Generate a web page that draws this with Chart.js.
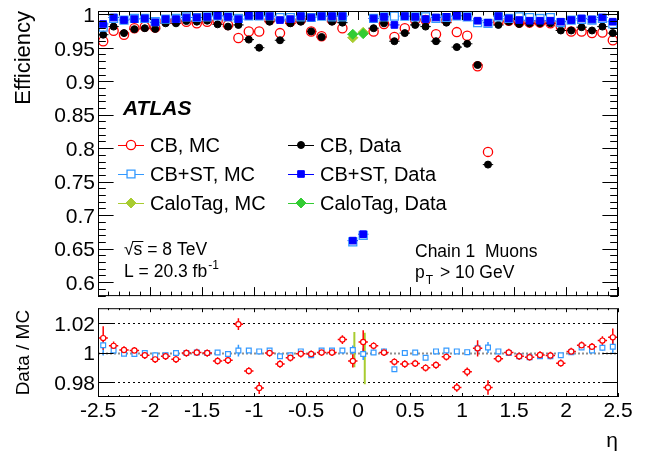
<!DOCTYPE html>
<html>
<head>
<meta charset="utf-8">
<script src="https://cdn.jsdelivr.net/npm/chart.js@4.4.1/dist/chart.umd.min.js"></script>
<style>
  html, body { margin: 0; padding: 0; background: #fff; }
  #wrap { position: relative; width: 651px; height: 457px; overflow: hidden; }
  canvas { position: absolute; left: 0; }
  #top { top: 0; }
  #bot { top: 303px; }
</style>
</head>
<body>
<div id="wrap">
  <canvas id="top" width="651" height="303"></canvas>
  <canvas id="bot" width="651" height="154"></canvas>
</div>
<script>
// muon reconstruction efficiency vs eta, CB / CB+ST / CaloTag

const etaBins = [-2.45,-2.35,-2.25,-2.15,-2.05,-1.95,-1.85,-1.75,-1.65,-1.55,-1.45,-1.35,-1.25,-1.15,-1.05,-0.95,-0.85,-0.75,-0.65,-0.55,-0.45,-0.35,-0.25,-0.15,-0.05,
                 0.05,0.15,0.25,0.35,0.45,0.55,0.65,0.75,0.85,0.95,1.05,1.15,1.25,1.35,1.45,1.55,1.65,1.75,1.85,1.95,2.05,2.15,2.25,2.35,2.45];

const effCbMC = [0.9597,0.9752,0.9694,0.9791,0.9815,0.9801,0.9898,0.9898,0.9888,0.9864,0.9888,0.9898,0.9840,0.9645,0.9743,0.9743,0.9913,0.9718,0.9888,0.9913,0.9743,0.9670,0.9913,0.9791,null,
                 null,0.9743,0.9854,0.9660,0.9791,0.9913,0.9913,0.9700,0.9913,0.9733,0.9679,0.9223,0.7945,0.9888,0.9903,0.9874,0.9874,0.9874,0.9864,0.9815,0.9743,0.9743,0.9718,0.9728,0.9611];
const effCbData = [0.9694,0.9815,0.9718,0.9777,0.9791,0.9781,0.9864,0.9864,0.9898,0.9888,0.9903,0.9849,0.9815,0.9840,0.9621,0.9500,0.9888,0.9611,0.9864,0.9888,0.9743,0.9660,0.9888,0.9874,null,
                   null,0.9791,0.9864,0.9597,0.9718,0.9840,0.9815,0.9597,0.9874,0.9509,0.9558,0.9242,0.7755,0.9840,0.9888,0.9854,0.9864,0.9864,0.9864,0.9757,0.9757,0.9806,0.9757,0.9815,0.9718];
const effCbStMC = [0.9806,0.9937,0.9913,0.9937,0.9937,0.9888,0.9927,0.9937,0.9961,0.9951,0.9961,0.9976,0.9961,0.9937,0.9976,0.9976,0.9976,0.9951,0.9951,0.9961,0.9951,0.9971,0.9961,0.9961,0.6600,
                   0.6700,0.9937,0.9961,0.9971,0.9971,0.9961,0.9961,0.9937,0.9951,0.9976,0.9961,0.9874,0.9864,0.9961,0.9937,0.9961,0.9951,0.9937,0.9951,0.9874,0.9913,0.9922,0.9913,0.9937,0.9854];
const effCbStData = [0.9854,0.9951,0.9913,0.9927,0.9937,0.9879,0.9927,0.9927,0.9951,0.9951,0.9961,0.9976,0.9961,0.9927,0.9976,0.9976,0.9971,0.9913,0.9927,0.9971,0.9951,0.9971,0.9971,0.9971,0.6620,
                     0.6716,0.9937,0.9961,0.9840,0.9971,0.9961,0.9927,0.9951,0.9961,0.9976,0.9961,0.9903,0.9874,0.9971,0.9937,0.9913,0.9903,0.9903,0.9903,0.9888,0.9913,0.9937,0.9922,0.9951,0.9888];

const caloEta = [-0.05, 0.05];
const effCaloMC = [0.965, 0.973];
const effCaloData = [0.970, 0.971];

const ratioCb = [1.0099,1.0046,1.0018,1.0014,0.9982,0.9954,0.9975,0.9954,0.9997,1.0001,0.9997,0.9943,0.9948,1.0194,0.9875,0.9758,0.9997,0.9922,0.9965,0.9992,0.9990,1.0001,1.0001,1.0089,0.9943,
                 1.0072,1.0046,1.0001,0.9937,0.9922,0.9926,0.9896,0.9915,0.9971,0.9762,0.9869,1.0029,0.9762,0.9958,1.0001,0.9975,0.9969,0.9984,0.9980,0.9928,1.0008,1.0050,1.0040,1.0082,1.0104];
const ratioCbErr = [0.008,0.003,0.0025,0.0025,0.0025,0.0025,0.0025,0.0025,0.0025,0.0025,0.0025,0.0025,0.0025,0.004,0.0025,0.004,0.0025,0.0025,0.0025,0.0025,0.0025,0.0025,0.0025,0.003,0.0045,
                    0.008,0.0025,0.0025,0.0025,0.0025,0.0025,0.0025,0.0025,0.0025,0.003,0.003,0.0055,0.005,0.0025,0.0025,0.0025,0.0025,0.0025,0.0025,0.0025,0.0025,0.0025,0.0025,0.003,0.006];
const ratioCbSt = [1.0050,1.0014,0.9992,0.9990,0.9997,0.9982,0.9982,0.9997,0.9997,1.0001,0.9997,1.0001,0.9990,1.0014,1.0014,1.0008,1.0014,0.9975,0.9982,1.0008,0.9982,1.0014,1.0014,1.0014,1.0018,
                   0.9990,1.0001,1.0008,0.9886,0.9997,1.0001,0.9965,1.0008,1.0014,1.0008,1.0003,1.0029,1.0035,1.0008,0.9997,0.9975,0.9969,0.9975,0.9975,0.9982,1.0003,1.0035,1.0014,1.0033,1.0040];
const ratioCbStErr = [0.007,0.002,0.0012,0.0012,0.0012,0.0012,0.0012,0.0012,0.0012,0.0012,0.0012,0.0012,0.0012,0.004,0.0012,0.0012,0.0012,0.0012,0.0012,0.0012,0.0012,0.0012,0.0012,0.0012,0.003,
                      0.004,0.0012,0.0012,0.0012,0.0012,0.0012,0.0012,0.0012,0.0012,0.0012,0.0012,0.003,0.0037,0.0012,0.0012,0.0012,0.0012,0.0012,0.0012,0.0012,0.0012,0.0012,0.0012,0.002,0.0045];

const ratioCaloEta = [-0.035, 0.065];
const ratioCalo = [1.002, 0.996];
const ratioCaloErr = [0.012, 0.0176];

const etaRange = [-2.5, 2.5];
const effRange = [0.5792, 1.0048];
const ratioRange = [0.9697, 1.0303];
const ratioGuides = [1.02, 1.0, 0.98];

const legendOrder = ['CB, MC', 'CB, Data', 'CB+ST, MC', 'CB+ST, Data', 'CaloTag, MC', 'CaloTag, Data'];

const FONT = '"Liberation Sans", Arial, Helvetica, sans-serif';
const RED = '#ff0000', BLACK = '#000000', LBLUE = '#3399ff', BLUE = '#0000ff', GREEN = '#33cc33', OLIVE = '#a8cc30';

Chart.defaults.font.family = FONT;
Chart.defaults.color = '#000';

function points(xs, ys, errs) {
  const out = [];
  xs.forEach((x, i) => {
    if (ys[i] != null) out.push({ x, y: ys[i], e: errs ? errs[i] : 0 });
  });
  return out;
}

const errorBars = {
  id: 'errorBars',
  beforeDatasetsDraw(chart) {
    const { ctx, chartArea: a, scales } = chart;
    const xs = scales.x, ys = scales.y;
    ctx.save();
    ctx.beginPath();
    ctx.rect(a.left, a.top, a.right - a.left, a.bottom - a.top);
    ctx.clip();
    chart.data.datasets.slice().reverse().forEach(ds => {
      if (!ds.errX && !ds.errY) return;
      ctx.strokeStyle = ds.errColor || ds.borderColor;
      ctx.lineWidth = ds.errWidth || 1;
      ctx.beginPath();
      ds.data.forEach(p => {
        const px = xs.getPixelForValue(p.x), py = ys.getPixelForValue(p.y);
        if (ds.errX) {
          ctx.moveTo(xs.getPixelForValue(p.x - ds.errX), py);
          ctx.lineTo(xs.getPixelForValue(p.x + ds.errX), py);
        }
        if (ds.errY && p.e) {
          ctx.moveTo(px, ys.getPixelForValue(p.y - p.e));
          ctx.lineTo(px, ys.getPixelForValue(p.y + p.e));
        }
      });
      ctx.stroke();
    });
    ctx.restore();
  }
};

// ROOT-like frame: box with inward ticks on all four sides
function frame(o) {
  return {
    id: 'frame',
    afterDatasetsDraw(chart) {
      const { ctx, chartArea: a, scales: { x, y } } = chart;
      ctx.save();
      ctx.strokeStyle = '#000';
      ctx.lineWidth = 1;
      ctx.strokeRect(a.left + 0.5, a.top + 0.5, a.right - a.left - 1, a.bottom - a.top - 1);
      ctx.beginPath();
      for (let i = -25; i <= 25; i++) {
        const px = Math.round(x.getPixelForValue(i / 10)) + 0.5;
        const len = i % 5 === 0 ? o.xMajor : o.xMinor;
        ctx.moveTo(px, a.bottom); ctx.lineTo(px, a.bottom - len);
        ctx.moveTo(px, a.top); ctx.lineTo(px, a.top + len);
      }
      o.yTicks.forEach(([v, major]) => {
        const py = Math.round(y.getPixelForValue(v)) + 0.5;
        const len = major ? o.yMajor : o.yMinor;
        ctx.moveTo(a.left, py); ctx.lineTo(a.left + len, py);
        ctx.moveTo(a.right, py); ctx.lineTo(a.right - len, py);
      });
      ctx.stroke();
      ctx.restore();
    }
  };
}

const topYTicks = [];
for (let k = 58; k <= 100; k++) topYTicks.push([k / 100, k % 5 === 0]);

const annotations = {
  id: 'annotations',
  afterDraw(chart) {
    const ctx = chart.ctx;
    ctx.save();
    ctx.fillStyle = '#000';
    ctx.textBaseline = 'alphabetic';
    ctx.textAlign = 'left';

    ctx.font = 'italic bold 21px ' + FONT;
    ctx.fillText('ATLAS', 123, 115);

    // legend, two columns
    legendOrder.forEach((label, i) => {
      const ds = chart.data.datasets.find(d => d.label === label);
      const col = i % 2, row = Math.floor(i / 2);
      const mx = [131, 301][col], my = [145, 174, 203][row];
      ctx.strokeStyle = ds.borderColor;
      ctx.lineWidth = 1;
      ctx.beginPath();
      ctx.moveTo(mx - 13, my + 0.5); ctx.lineTo(mx + 13, my + 0.5);
      ctx.stroke();
      ctx.fillStyle = ds.backgroundColor === 'transparent' ? '#fff' : ds.backgroundColor;
      ctx.lineWidth = ds.borderWidth || 1;
      Chart.helpers.drawPoint(ctx, { pointStyle: ds.pointStyle, radius: ds.pointRadius, borderWidth: ds.borderWidth || 1, rotation: 0 }, mx, my);
      ctx.fillStyle = '#000';
      ctx.font = '20px ' + FONT;
      ctx.fillText(label, [150, 320][col], my + 7);
    });

    ctx.font = '17.5px ' + FONT;
    ctx.fillText('\u221As = 8 TeV', 124, 255);
    const w1 = ctx.measureText('\u221A').width, w2 = ctx.measureText('\u221As').width;
    ctx.lineWidth = 1;
    ctx.strokeStyle = '#000';
    ctx.beginPath();
    ctx.moveTo(124 + w1 - 1, 255 - 13.5); ctx.lineTo(124 + w2 + 1, 255 - 13.5);
    ctx.stroke();

    ctx.fillText('L = 20.3 fb', 124, 277);
    const wl = ctx.measureText('L = 20.3 fb').width;
    ctx.font = '12px ' + FONT;
    ctx.fillText('-1', 124 + wl + 1, 269);

    ctx.font = '17.5px ' + FONT;
    ctx.fillText('Chain 1  Muons', 415, 257);
    ctx.fillText('p', 415, 278);
    const wp = ctx.measureText('p').width;
    ctx.font = '12px ' + FONT;
    ctx.fillText('T', 415 + wp + 1, 284);
    const wt = ctx.measureText('T').width;
    ctx.font = '17.5px ' + FONT;
    ctx.fillText(' > 10 GeV', 415 + wp + wt + 3, 278);
    ctx.restore();
  }
};

const guideLines = {
  id: 'guideLines',
  beforeDatasetsDraw(chart) {
    const { ctx, chartArea: a, scales: { y } } = chart;
    ctx.save();
    ratioGuides.forEach(v => {
      const py = Math.round(y.getPixelForValue(v)) + 0.5;
      const unity = v === 1.0;
      ctx.strokeStyle = unity ? '#8f8f8f' : '#000';
      ctx.lineWidth = unity ? 2 : 1;
      ctx.setLineDash(unity ? [2, 2] : [2, 3]);
      ctx.beginPath();
      ctx.moveTo(a.left, py); ctx.lineTo(a.right, py);
      ctx.stroke();
    });
    ctx.restore();
  }
};

const tickLabel = v => String(+v.toFixed(3));

new Chart(document.getElementById('top'), {
  type: 'scatter',
  data: {
    datasets: [
      { label: 'CaloTag, Data', data: points(caloEta, effCaloData), pointStyle: 'rectRot', pointRadius: 5,
        backgroundColor: GREEN, borderColor: GREEN, borderWidth: 1, errX: 0.05 },
      { label: 'CaloTag, MC', data: points(caloEta, effCaloMC), pointStyle: 'rectRot', pointRadius: 5,
        backgroundColor: OLIVE, borderColor: OLIVE, borderWidth: 1, errX: 0.05 },
      { label: 'CB+ST, Data', data: points(etaBins, effCbStData), pointStyle: 'rect', pointRadius: 4.7,
        backgroundColor: BLUE, borderColor: BLUE, borderWidth: 1, errX: 0.05 },
      { label: 'CB+ST, MC', data: points(etaBins, effCbStMC), pointStyle: 'rect', pointRadius: 5.6,
        backgroundColor: 'transparent', borderColor: LBLUE, borderWidth: 1.3 },
      { label: 'CB, Data', data: points(etaBins, effCbData), pointStyle: 'circle', pointRadius: 3.5,
        backgroundColor: BLACK, borderColor: BLACK, borderWidth: 1, errX: 0.05 },
      { label: 'CB, MC', data: points(etaBins, effCbMC), pointStyle: 'circle', pointRadius: 4.6,
        backgroundColor: 'transparent', borderColor: RED, borderWidth: 1.3 }
    ]
  },
  options: {
    responsive: false,
    animation: false,
    events: [],
    layout: { padding: { top: 11, right: 33, bottom: 0, left: 0 } },
    plugins: { legend: { display: false }, tooltip: { enabled: false } },
    scales: {
      x: { type: 'linear', display: false, min: etaRange[0], max: etaRange[1] },
      y: {
        type: 'linear', min: effRange[0], max: effRange[1],
        grid: { display: false, drawTicks: false }, border: { display: false },
        ticks: { stepSize: 0.05, includeBounds: false, padding: 3, labelOffset: 2, font: { size: 21 }, callback: tickLabel },
        title: { display: true, text: 'Efficiency', align: 'end', font: { size: 22 }, padding: { top: 11, bottom: 0 } },
        afterFit(s) { s.width = 98; s.paddingTop = 0; s.paddingBottom = 0; }
      }
    }
  },
  plugins: [errorBars, frame({ xMajor: 9, xMinor: 4.5, yMajor: 15.6, yMinor: 7.8, yTicks: topYTicks }), annotations]
});

new Chart(document.getElementById('bot'), {
  type: 'scatter',
  data: {
    datasets: [
      { label: 'CB', data: points(etaBins, ratioCb, ratioCbErr), pointStyle: 'circle', pointRadius: 2.6,
        backgroundColor: '#fff', borderColor: RED, borderWidth: 1.2, errX: 0.045, errY: true, errWidth: 1.5 },
      { label: 'CB+ST', data: points(etaBins, ratioCbSt, ratioCbStErr), pointStyle: 'rect', pointRadius: 3.4,
        backgroundColor: '#fff', borderColor: LBLUE, borderWidth: 1.2, errY: true, errWidth: 1.5 },
      { label: 'CaloTag', data: points(ratioCaloEta, ratioCalo, ratioCaloErr), pointRadius: 0,
        borderColor: OLIVE, errY: true, errWidth: 2 }
    ]
  },
  options: {
    responsive: false,
    animation: false,
    events: [],
    layout: { padding: { top: 0, right: 33, bottom: 0, left: 0 } },
    plugins: { legend: { display: false }, tooltip: { enabled: false } },
    scales: {
      x: {
        type: 'linear', min: etaRange[0], max: etaRange[1],
        grid: { display: false, drawTicks: false }, border: { display: false },
        ticks: { stepSize: 0.5, padding: 2, maxRotation: 0, autoSkip: false, font: { size: 21 }, callback: tickLabel },
        title: { display: true, text: '\u03B7', align: 'end', font: { size: 21 }, padding: { top: 0, bottom: 3 } },
        afterFit(s) { s.height = 60; s.paddingLeft = 0; s.paddingRight = 0; }
      },
      y: {
        type: 'linear', min: ratioRange[0], max: ratioRange[1],
        grid: { display: false, drawTicks: false }, border: { display: false },
        ticks: { stepSize: 0.02, includeBounds: false, padding: 3, labelOffset: 2, font: { size: 21 }, callback: tickLabel },
        title: { display: true, text: 'Data / MC', align: 'center', font: { size: 19 }, padding: { top: 12.6, bottom: 0 } },
        afterFit(s) { s.width = 98; s.paddingTop = 0; s.paddingBottom = 0; }
      }
    }
  },
  plugins: [guideLines, errorBars, frame({ xMajor: 4, xMinor: 2, yMajor: 15.6, yMinor: 7.8, yTicks: [[0.98, true], [1.0, true], [1.02, true]] })]
});
</script>
</body>
</html>
